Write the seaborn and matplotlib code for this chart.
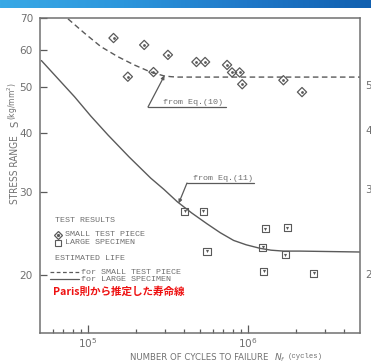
import numpy as np
import pandas as pd
import seaborn as sns
import matplotlib.pyplot as plt
from matplotlib.lines import Line2D
from matplotlib.colors import LinearSegmentedColormap
from matplotlib.ticker import FixedLocator, NullLocator, NullFormatter

# test results
small_n = [1.44e5, 1.77e5, 2.24e5, 2.56e5, 3.15e5, 4.75e5, 5.38e5, 7.38e5, 7.93e5, 8.84e5, 9.18e5, 1.66e6, 2.17e6]
small_s = [63.5, 52.6, 61.4, 53.8, 58.5, 56.5, 56.5, 55.7, 53.7, 53.7, 50.7, 51.7, 48.8]

large_n = [4.02e5, 5.25e5, 5.53e5, 1.23e6, 1.25e6, 1.28e6, 1.71e6, 1.75e6, 2.57e6]
large_s = [27.3, 27.3, 22.5, 22.9, 20.4, 25.1, 22.1, 25.2, 20.2]

# estimated life curves
eq10_n = [7.48e4, 9.49e4, 1.20e5, 1.53e5, 1.94e5, 2.46e5, 2.98e5, 3.3e5, 3.61e5, 1.0e6, 5.0e6]
eq10_s = [69.7, 65.0, 60.9, 58.0, 55.7, 53.8, 52.8, 52.6, 52.5, 52.5, 52.5]

eq11_n = [5.1e4, 8.22e4, 1.04e5, 1.33e5, 1.80e5, 2.46e5, 2.97e5, 3.61e5, 4.43e5, 5.53e5,
          6.70e5, 8.11e5, 9.72e5, 1.19e6, 1.39e6, 1.66e6, 2.1e6, 5.0e6]
eq11_s = [56.9, 47.7, 43.4, 39.6, 35.6, 32.1, 30.4, 28.6, 27.1, 25.7,
          24.6, 23.7, 23.2, 22.8, 22.6, 22.5, 22.5, 22.4]

y_ticks = [20, 30, 40, 50, 60, 70]

W, H = 371, 363
INK = '#5a5a5a'
TXT = '#707070'
MONO = 'Liberation Mono'


def fx(x):
    return x / W


def fy(y):
    return 1 - y / H


def plot():
    sns.set_theme(style="white")
    plt.rcParams['font.family'] = ['DejaVu Sans']
    fig = plt.figure(figsize=(W / 100, H / 100), dpi=100)
    ax = fig.add_axes([fx(40), fy(333), 320 / W, 315 / H])
    ax.set_xscale('log')
    ax.set_yscale('log')

    df_small = pd.DataFrame({'n': small_n, 's': small_s})
    df_large = pd.DataFrame({'n': large_n, 's': large_s})
    df10 = pd.DataFrame({'n': eq10_n, 's': eq10_s})
    df11 = pd.DataFrame({'n': eq11_n, 's': eq11_s})

    sns.lineplot(data=df10, x='n', y='s', ax=ax, color=INK, lw=1.0, sort=False)
    ax.lines[-1].set_dashes((4, 2.5))
    sns.lineplot(data=df11, x='n', y='s', ax=ax, color=INK, lw=1.0, sort=False)

    sns.scatterplot(data=df_small, x='n', y='s', ax=ax, marker='D', s=22,
                    facecolor='none', edgecolor=INK, linewidth=0.9)
    sns.scatterplot(data=df_small, x='n', y='s', ax=ax, marker='o', s=4,
                    color=INK, linewidth=0)
    sns.scatterplot(data=df_large, x='n', y='s', ax=ax, marker='s', s=26,
                    facecolor='none', edgecolor=INK, linewidth=0.8)
    sns.scatterplot(data=df_large, x='n', y='s', ax=ax, marker='v', s=5,
                    color=INK, linewidth=0)

    ax.set_xlim(5e4, 5e6)
    ax.set_ylim(15.1, 70)
    ax.set_xlabel('')
    ax.set_ylabel('')

    ax.xaxis.set_major_locator(FixedLocator([1e5, 1e6]))
    ax.set_xticklabels(['$10^5$', '$10^6$'])
    minors = [m * 10 ** e for e in (4, 5, 6) for m in range(2, 10)]
    minors = [v for v in minors if 5e4 < v < 5e6]
    ax.xaxis.set_minor_locator(FixedLocator(minors))
    ax.xaxis.set_minor_formatter(NullFormatter())
    ax.yaxis.set_major_locator(FixedLocator(y_ticks))
    ax.set_yticklabels([str(v) for v in y_ticks])
    ax.yaxis.set_minor_locator(NullLocator())

    ax.tick_params(axis='both', which='major', direction='in', length=5, width=0.9,
                   color=INK, labelcolor=TXT, labelsize=7.6)
    ax.tick_params(axis='x', which='minor', direction='in', length=3.2, width=0.9,
                   color=INK, bottom=True)
    ax.tick_params(axis='x', which='major', length=5.5, pad=2, bottom=True)
    ax.tick_params(axis='y', which='major', pad=5, left=True)
    for sp in ax.spines.values():
        sp.set_color('#707070')
        sp.set_linewidth(1.1)

    # annotations with leader lines
    ax.annotate('', xy=(3.0e5, 52.9), xytext=(fx(148), fy(107)),
                textcoords='figure fraction',
                arrowprops=dict(arrowstyle='-|>', color=INK, lw=0.9,
                                mutation_scale=5, shrinkA=0, shrinkB=0))
    fig.add_artist(Line2D([fx(148), fx(226)], [fy(107), fy(107)], color=INK, lw=0.9))
    fig.text(fx(163), fy(104), 'from Eq.(10)', family=MONO, fontsize=6, color=TXT)

    ax.annotate('', xy=(3.68e5, 28.4), xytext=(fx(187), fy(183)),
                textcoords='figure fraction',
                arrowprops=dict(arrowstyle='-|>', color=INK, lw=0.9,
                                mutation_scale=5, shrinkA=0, shrinkB=0))
    fig.add_artist(Line2D([fx(187), fx(254)], [fy(183), fy(183)], color=INK, lw=0.9))
    fig.text(fx(193), fy(180), 'from Eq.(11)', family=MONO, fontsize=6, color=TXT)

    # legend block
    fig.text(fx(55), fy(220), 'TEST RESULTS', family=MONO, fontsize=6, color=TXT, va='center')
    fig.add_artist(Line2D([fx(57.5)], [fy(234.5)], marker='D', ms=4.2, mfc='none',
                          mec=INK, mew=0.9, ls='none'))
    fig.add_artist(Line2D([fx(57.5)], [fy(234.5)], marker='o', ms=1.3, color=INK, ls='none'))
    fig.text(fx(65), fy(235), 'SMALL TEST PIECE', family=MONO, fontsize=6, color=TXT, va='center')
    fig.add_artist(Line2D([fx(57.5)], [fy(242.5)], marker='s', ms=4.2, mfc='none',
                          mec=INK, mew=0.8, ls='none'))
    fig.text(fx(65), fy(243), 'LARGE SPECIMEN', family=MONO, fontsize=6, color=TXT, va='center')
    fig.text(fx(55), fy(259), 'ESTIMATED LIFE', family=MONO, fontsize=6, color=TXT, va='center')
    fig.add_artist(Line2D([fx(50), fx(79)], [fy(272), fy(272)], color=INK, lw=0.9,
                          dashes=(3, 2)))
    fig.text(fx(81), fy(272), 'for SMALL TEST PIECE', family=MONO, fontsize=6, color=TXT, va='center')
    fig.add_artist(Line2D([fx(50), fx(79)], [fy(279), fy(279)], color=INK, lw=0.9))
    fig.text(fx(81), fy(279.5), 'for LARGE SPECIMEN', family=MONO, fontsize=6, color=TXT, va='center')

    fig.text(fx(53), fy(292), 'Paris則から推定した寿命線', color='#ee1111', fontsize=7.6,
             fontweight='bold', va='center', family=['Noto Sans CJK JP', 'DejaVu Sans'])

    # axis titles
    fig.text(fx(199), fy(357.5), 'NUMBER OF CYCLES TO FAILURE', fontsize=6.8, color=TXT,
             ha='center', va='center', fontstretch='condensed')
    fig.text(fx(274), fy(357.5), '$N_f$', fontsize=6.5, color=TXT, ha='left', va='center')
    fig.text(fx(288), fy(356.5), '(cycles)', family=MONO, fontsize=5.2, color=TXT, va='center')

    fig.text(fx(15), fy(170), 'STRESS RANGE', fontsize=7.2, color=TXT, rotation=90,
             ha='center', va='center', fontstretch='condensed')
    fig.text(fx(15), fy(124), 'S', fontsize=7.2, color=TXT, rotation=90, ha='center', va='center')
    fig.text(fx(13), fy(101), '(kg/mm$^2$)', fontsize=5.5, color=TXT, rotation=90,
             ha='center', va='center')

    # neighbouring panel fragments at the right edge
    for y, t in [(86, '5'), (131, '4'), (190, '3'), (275, '2')]:
        fig.text(fx(365), fy(y), t, fontsize=7.5, color=TXT, va='center')

    # header bar
    bar = fig.add_axes([0, fy(8), 1, 8 / H])
    cmap = LinearSegmentedColormap.from_list('hdr', ['#39a9e6', '#2c96dc', '#1f78c8', '#1160b0'])
    bar.imshow(np.linspace(0, 1, 256)[None, :], aspect='auto', cmap=cmap)
    bar.set_axis_off()

    fig.savefig('out.png', dpi=100)


if __name__ == "__main__":
    plot()
